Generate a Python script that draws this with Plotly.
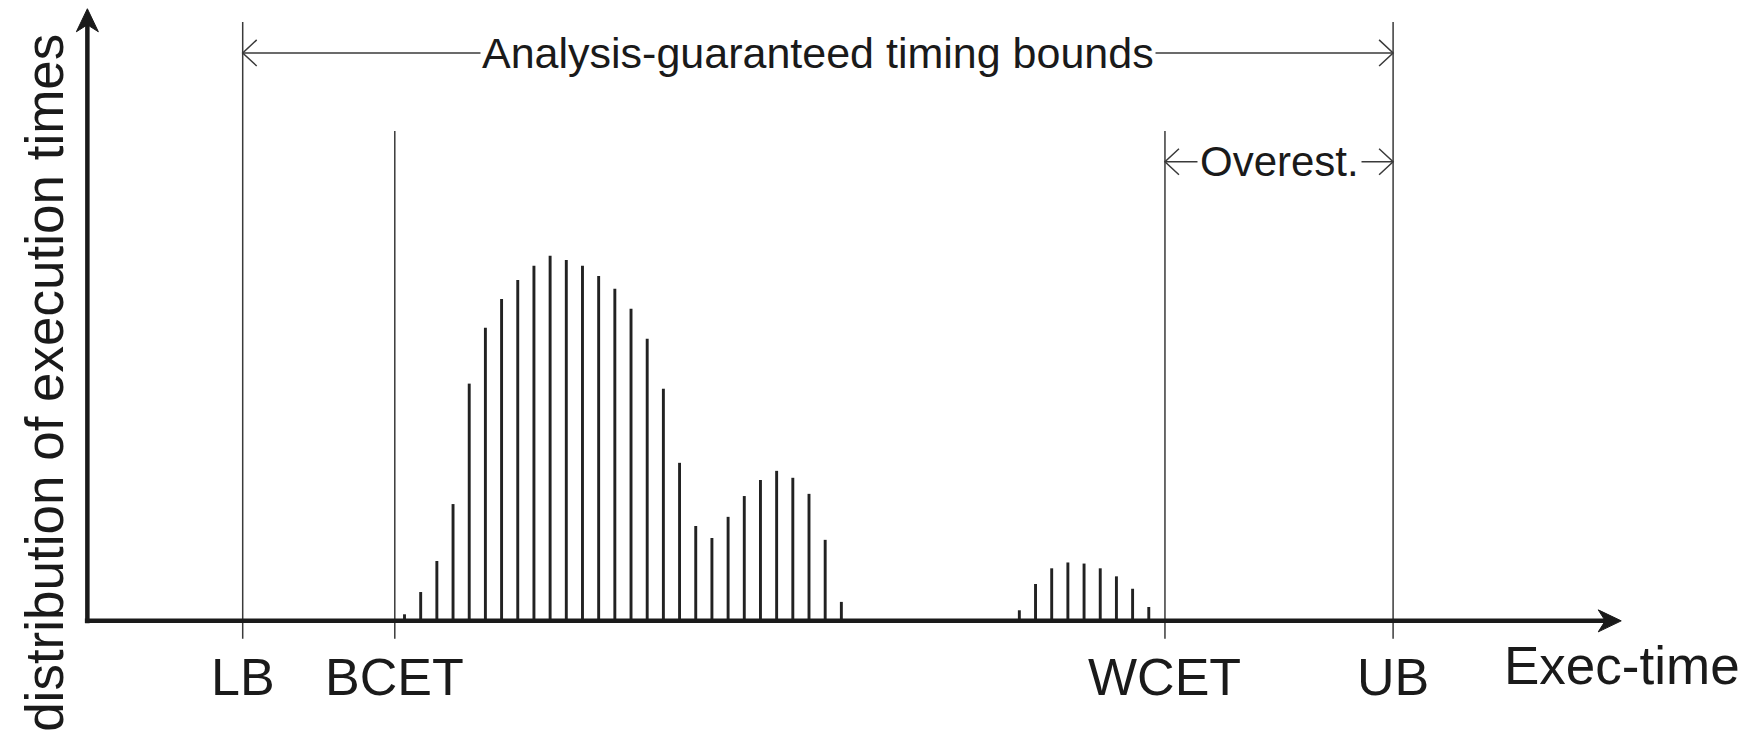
import plotly.graph_objects as go

# ---- data (execution-time units, relative frequency units) ----
main_times = list(range(20, 48))
main_counts = [1.8, 7.9, 16.4, 32.0, 65.0, 80.3, 88.2, 93.4, 97.3, 100.0,
               98.9, 97.3, 94.5, 91.0, 85.5, 77.3, 63.6, 43.3, 26.0, 22.7,
               28.5, 34.2, 38.6, 41.1, 39.2, 34.8, 22.2, 5.2]
tail_times = list(range(58, 67))
tail_counts = [2.9, 10.1, 14.4, 16.0, 15.7, 14.4, 12.2, 8.8, 3.8]

LB, BCET, WCET, UB = 10.0, 19.4, 67.0, 81.1
marker_labels = ["LB", "BCET", "WCET", "UB"]
marker_values = [LB, BCET, WCET, UB]

# ---- frame ----
W, H = 1755, 739
PAGE_OFFSET = 8  # default body margin of the html page
PX_X = 16.18     # px per x unit
PX_Y = 3.65      # px per y unit
XMIN = -5.0 + PAGE_OFFSET / PX_X
XMAX = XMIN + W / PX_X
YMAX = 170.1 - PAGE_OFFSET / PX_Y
YMIN = YMAX - H / PX_Y

X_ORIGIN, X_END = 0.4, 95.2
Y_TOP = 167.7
BOUND_TOP, EST_TOP = 164.1, 134.2
LINE_BOTTOM = -4.9
BOUNDS_Y, OVEREST_Y = 155.6, 125.8

INK = "#1a1a1a"
THIN = "#3a3a3a"
FONT = "Liberation Sans, Arial, Helvetica, sans-serif"

def dx(px):
    return px / PX_X

def dy(px):
    return px / PX_Y

REF_X0 = -5.0  # data x at reference pixel 0

fig = go.Figure()
fig.add_trace(go.Bar(x=main_times + tail_times, y=main_counts + tail_counts,
                     width=0.18, marker=dict(color="#222222", line=dict(width=0)),
                     hoverinfo="skip", showlegend=False))

shapes = []
for v in marker_values:
    top = BOUND_TOP if v in (LB, UB) else EST_TOP
    shapes.append(dict(type="line", x0=v, x1=v, y0=LINE_BOTTOM, y1=top,
                       line=dict(color=THIN, width=1.5), layer="above"))

# axes
shapes.append(dict(type="line", x0=X_ORIGIN, x1=X_ORIGIN, y0=-dy(2.5), y1=Y_TOP - dy(12),
                   line=dict(color=INK, width=4.5), layer="above"))
shapes.append(dict(type="line", x0=X_ORIGIN - dx(2.5), x1=X_END - dx(12), y0=0, y1=0,
                   line=dict(color=INK, width=4.5), layer="above"))
tx, ty = X_ORIGIN, Y_TOP
shapes.append(dict(type="path",
                   path=f"M {tx},{ty} L {tx-dx(11)},{ty-dy(23)} L {tx},{ty-dy(16)} L {tx+dx(11)},{ty-dy(23)} Z",
                   fillcolor=INK, line=dict(color=INK, width=1), layer="above"))
tx, ty = X_END, 0
shapes.append(dict(type="path",
                   path=f"M {tx},{ty} L {tx-dx(23)},{ty+dy(11)} L {tx-dx(16)},{ty} L {tx-dx(23)},{ty-dy(11)} Z",
                   fillcolor=INK, line=dict(color=INK, width=1), layer="above"))

def dim_arrow(x0, x1, y):
    out = [dict(type="line", x0=x0, x1=x1, y0=y, y1=y, line=dict(color=THIN, width=1.5))]
    for tip, sgn in ((x0, 1), (x1, -1)):
        out.append(dict(type="path",
                        path=f"M {tip+sgn*dx(14)},{y+dy(13)} L {tip},{y} L {tip+sgn*dx(14)},{y-dy(13)}",
                        line=dict(color=THIN, width=1.5)))
    return out

shapes += dim_arrow(LB, UB, BOUNDS_Y)
shapes += dim_arrow(WCET, UB, OVEREST_Y)

annotations = [
    dict(x=(LB + UB) / 2, y=BOUNDS_Y, text="Analysis-guaranteed timing bounds",
         showarrow=False, bgcolor="white", borderpad=1,
         font=dict(family=FONT, size=43, color=INK)),
    dict(x=(WCET + UB) / 2, y=OVEREST_Y, text="Overest.",
         showarrow=False, bgcolor="white", borderpad=2,
         font=dict(family=FONT, size=42, color=INK)),
    dict(x=REF_X0 + dx(45), y=dy(621 - 383), text="distribution of execution times",
         textangle=-90, showarrow=False,
         font=dict(family=FONT, size=53, color=INK)),
    dict(x=REF_X0 + dx(1622), y=-dy(45), text="Exec-time", showarrow=False,
         font=dict(family=FONT, size=53, color=INK)),
]
for lab, v in zip(marker_labels, marker_values):
    annotations.append(dict(x=v, y=-dy(56), text=lab, showarrow=False,
                            font=dict(family=FONT, size=52, color=INK)))

fig.update_layout(
    width=W, height=H, margin=dict(l=0, r=0, t=0, b=0),
    paper_bgcolor="white", plot_bgcolor="white",
    xaxis=dict(range=[XMIN, XMAX], visible=False, fixedrange=True),
    yaxis=dict(range=[YMIN, YMAX], visible=False, fixedrange=True),
    shapes=shapes, annotations=annotations, showlegend=False,
)
fig.write_html("out.html")
